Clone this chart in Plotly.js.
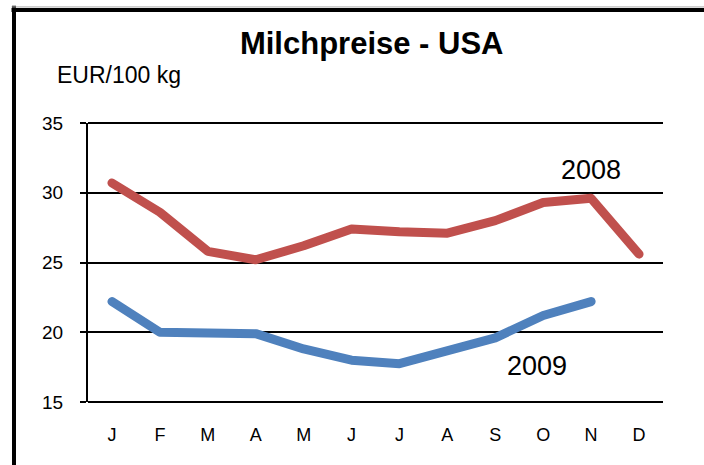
<!DOCTYPE html>
<html>
<head>
<meta charset="utf-8">
<script src="https://cdn.plot.ly/plotly-3.0.1.min.js"></script>
<style>
html,body{margin:0;padding:0;background:#fff;}
#chart{width:704px;height:465px;}
#chart path.js-line{stroke-linecap:round !important;stroke-linejoin:round !important;}
</style>
</head>
<body>
<div id="chart"></div>
<script>
var months = ["Jan","Feb","Mar","Apr","May","Jun","Jul","Aug","Sep","Oct","Nov","Dec"];
var monthLabels = ["J","F","M","A","M","J","J","A","S","O","N","D"];
var prices2008 = [30.7, 28.6, 25.8, 25.2, 26.2, 27.4, 27.2, 27.1, 28.0, 29.3, 29.6, 25.6];
var prices2009 = [22.2, 20.0, 19.95, 19.9, 18.8, 18.0, 17.75, 18.65, 19.6, 21.2, 22.2, null];
var yTicks = [15, 20, 25, 30, 35];

var FONT = "Liberation Sans, Arial, Helvetica, sans-serif";

var traces = [
  {x: months, y: prices2008, type: "scatter", mode: "lines", name: "2008",
   line: {color: "#C0504D", width: 9}, hoverinfo: "skip"},
  {x: months, y: prices2009, type: "scatter", mode: "lines", name: "2009",
   line: {color: "#4F81BD", width: 9}, connectgaps: false, hoverinfo: "skip"}
];

var layout = {
  width: 704, height: 465,
  margin: {l: 88, r: 41, t: 123, b: 63},
  paper_bgcolor: "#ffffff", plot_bgcolor: "#ffffff",
  showlegend: false,
  font: {family: FONT, color: "#000000", size: 18},
  title: {text: "<b>Milchpreise - USA</b>", font: {family: FONT, size: 31, color: "#000"},
          x: 0.528, xanchor: "center", xref: "container", y: 0.908, yanchor: "middle", yref: "container"},
  xaxis: {type: "category", categoryorder: "array", categoryarray: months,
          tickvals: months, ticktext: monthLabels, range: [-0.5, 11.5],
          showgrid: false, zeroline: false, showline: false, ticks: "",
          ticklabelstandoff: 20, tickfont: {family: FONT, size: 18, color: "#000"}},
  yaxis: {range: [15, 35], tickvals: yTicks, ticktext: yTicks.map(String),
          showgrid: true, gridcolor: "#000000", gridwidth: 2, zeroline: false,
          showline: true, linecolor: "#000000", linewidth: 2,
          ticks: "outside", ticklen: 6, tickwidth: 2, tickcolor: "#000000",
          ticklabelstandoff: 13, tickfont: {family: FONT, size: 19, color: "#000"}},
  shapes: [
    {type: "line", xref: "paper", yref: "paper", x0: 0, x1: 1, y0: 0, y1: 0,
     line: {color: "#000", width: 2}},
    {type: "line", xref: "paper", yref: "paper", x0: 0, x1: 1, y0: 1, y1: 1,
     line: {color: "#000", width: 2}},
    {type: "line", xref: "paper", yref: "paper", x0: -0.1287, x1: -0.1287, y0: 1.42, y1: -0.3,
     line: {color: "#000", width: 4}},
    {type: "line", xref: "paper", yref: "paper", x0: -0.133, x1: 1.1, y0: 1.405, y1: 1.405,
     line: {color: "#000", width: 4}},
    {type: "line", xref: "paper", yref: "paper", x0: -0.133, x1: 1.1, y0: 1.416, y1: 1.416,
     line: {color: "#aaaaaa", width: 1}}
  ],
  annotations: [
    {text: "EUR/100 kg", xref: "paper", yref: "paper", x: -0.0574, y: 1.172,
     xanchor: "left", yanchor: "middle", showarrow: false,
     font: {family: FONT, size: 23, color: "#000"}},
    {text: "2008", xref: "x", yref: "y", x: 10, y: 31.63, xanchor: "center", yanchor: "middle",
     showarrow: false, font: {family: FONT, size: 27, color: "#000"}},
    {text: "2009", xref: "x", yref: "y", x: 8.87, y: 17.58, xanchor: "center", yanchor: "middle",
     showarrow: false, font: {family: FONT, size: 27, color: "#000"}}
  ]
};

Plotly.newPlot("chart", traces, layout, {displayModeBar: false, staticPlot: true});
</script>
</body>
</html>
